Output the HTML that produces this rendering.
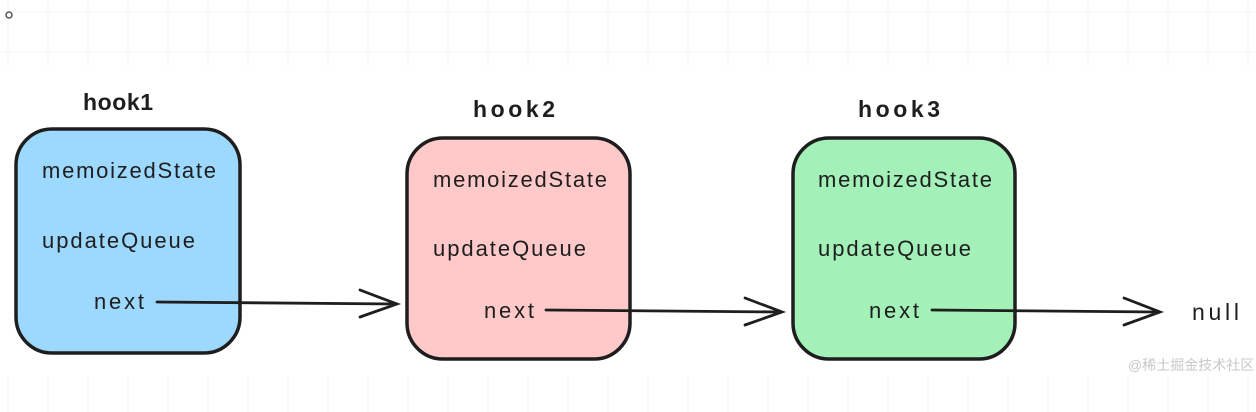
<!DOCTYPE html>
<html><head><meta charset="utf-8"><style>
html,body{margin:0;padding:0;background:#fff;overflow:hidden;width:1256px;height:412px;}
svg{display:block;}
text{font-family:"Liberation Sans","Noto Sans CJK SC",sans-serif;fill:#1e1e1e;}
</style></head><body>
<svg width="1256" height="412" viewBox="0 0 1256 412" xmlns="http://www.w3.org/2000/svg">
<g stroke="#f6f6f6" stroke-width="1">
<line x1="0" y1="12" x2="1256" y2="12"/><line x1="0" y1="52" x2="1256" y2="52"/>
<g id="v">
<line x1="8" y1="0" x2="8" y2="66"/><line x1="48" y1="0" x2="48" y2="66"/><line x1="88" y1="0" x2="88" y2="66"/><line x1="128" y1="0" x2="128" y2="66"/><line x1="168" y1="0" x2="168" y2="66"/><line x1="208" y1="0" x2="208" y2="66"/><line x1="248" y1="0" x2="248" y2="66"/><line x1="288" y1="0" x2="288" y2="66"/><line x1="328" y1="0" x2="328" y2="66"/><line x1="368" y1="0" x2="368" y2="66"/><line x1="408" y1="0" x2="408" y2="66"/><line x1="448" y1="0" x2="448" y2="66"/><line x1="488" y1="0" x2="488" y2="66"/><line x1="528" y1="0" x2="528" y2="66"/><line x1="568" y1="0" x2="568" y2="66"/><line x1="608" y1="0" x2="608" y2="66"/><line x1="648" y1="0" x2="648" y2="66"/><line x1="688" y1="0" x2="688" y2="66"/><line x1="728" y1="0" x2="728" y2="66"/><line x1="768" y1="0" x2="768" y2="66"/><line x1="808" y1="0" x2="808" y2="66"/><line x1="848" y1="0" x2="848" y2="66"/><line x1="888" y1="0" x2="888" y2="66"/><line x1="928" y1="0" x2="928" y2="66"/><line x1="968" y1="0" x2="968" y2="66"/><line x1="1008" y1="0" x2="1008" y2="66"/><line x1="1048" y1="0" x2="1048" y2="66"/><line x1="1088" y1="0" x2="1088" y2="66"/><line x1="1128" y1="0" x2="1128" y2="66"/><line x1="1168" y1="0" x2="1168" y2="66"/><line x1="1208" y1="0" x2="1208" y2="66"/><line x1="1248" y1="0" x2="1248" y2="66"/>
</g>
<use href="#v" transform="translate(0,376)"/>
</g>
<circle cx="9" cy="15" r="3" fill="none" stroke="#555" stroke-width="1.5"/>

<rect x="16" y="129" width="224" height="224" rx="36" fill="#9dd8ff" stroke="#1e1e1e" stroke-width="3.5"/>
<rect x="407" y="138" width="223" height="221" rx="36" fill="#ffc9c9" stroke="#1e1e1e" stroke-width="3.5"/>
<rect x="793" y="138" width="222" height="221" rx="36" fill="#a3f0b8" stroke="#1e1e1e" stroke-width="3.5"/>

<g font-size="23" font-weight="bold"><text x="83" y="110" textLength="70">hook1</text><text x="473" y="117" textLength="82">hook2</text><text x="858" y="117" textLength="82">hook3</text></g>
<g font-size="22">
<text x="42" y="178" textLength="174">memoizedState</text><text x="42" y="248" textLength="153">updateQueue</text><text x="94" y="309" textLength="50">next</text>
<text x="433" y="187" textLength="174">memoizedState</text><text x="433" y="256" textLength="153">updateQueue</text><text x="484" y="318" textLength="50">next</text>
<text x="818" y="187" textLength="174">memoizedState</text><text x="818" y="256" textLength="153">updateQueue</text><text x="869" y="318" textLength="50">next</text>
<text x="1192" y="320" font-size="23" textLength="47">null</text>
</g>
<g stroke="#1e1e1e" stroke-width="2.8" fill="none" stroke-linecap="round">
<path d="M157 302 L397 304 M360 290 L397 304 L360 317"/>
<path d="M546 310 L782 312 M745 298 L782 312 L745 325"/>
<path d="M932 310 L1160 312 M1124 298 L1160 312 L1124 325"/>
</g>
<text x="1128" y="370" font-size="14" style="fill:#c8c8c8">@稀土掘金技术社区</text>
</svg>
</body></html>
